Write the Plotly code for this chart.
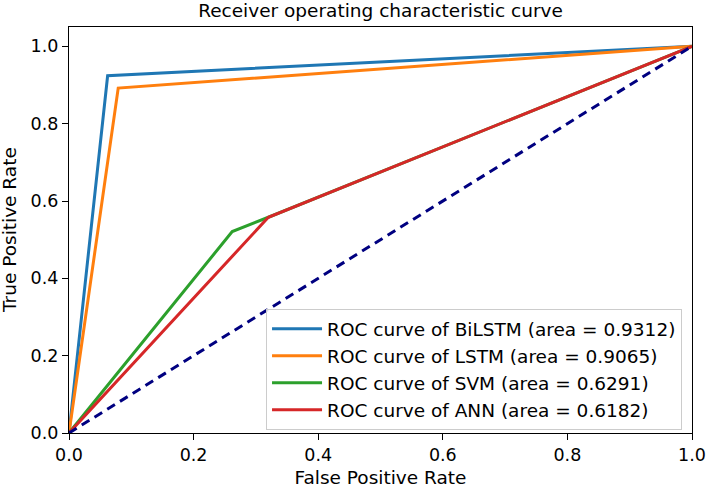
import plotly.graph_objects as go

names = ["BiLSTM", "LSTM", "SVM", "ANN"]
areas = ["0.9312", "0.9065", "0.6291", "0.6182"]
fpr = [
    [0.0, 0.062, 1.0],
    [0.0, 0.079, 1.0],
    [0.0, 0.262, 0.320, 1.0],
    [0.0, 0.320, 1.0],
]
tpr = [
    [0.0, 0.924, 1.0],
    [0.0, 0.892, 1.0],
    [0.0, 0.521, 0.558, 1.0],
    [0.0, 0.558, 1.0],
]
colors = ["#1f77b4", "#ff7f0e", "#2ca02c", "#d62728"]
diag_x = [0.0, 1.0]
diag_y = [0.0, 1.0]
ticks = [0.0, 0.2, 0.4, 0.6, 0.8, 1.0]

FONT = "DejaVu Sans"
FS = 18.5
TFS = 17.5
fig = go.Figure()
for i, n in enumerate(names):
    fig.add_trace(go.Scatter(
        x=fpr[i], y=tpr[i], mode="lines",
        line=dict(color=colors[i], width=3),
        name=f"ROC curve of {n} (area = {areas[i]})",
        legendgroup=n,
    ))
fig.add_trace(go.Scatter(
    x=diag_x, y=diag_y, mode="lines",
    line=dict(color="#000080", width=3, dash="9px,6px"),
    showlegend=False,
))

axis_common = dict(
    showgrid=False, zeroline=False, showline=True, linecolor="black",
    linewidth=1.2, mirror=True, ticks="outside", ticklen=6, tickwidth=1.2,
    tickcolor="black", tickformat=".1f", tickvals=ticks, automargin=False,
    ticklabeloverflow="allow",
    tickfont=dict(family=FONT, size=TFS, color="black"),
)
fig.update_layout(
    width=707, height=488,
    margin=dict(l=69, r=15, t=27, b=55),
    paper_bgcolor="white", plot_bgcolor="white",
    title=dict(text="Receiver operating characteristic curve",
               font=dict(family=FONT, size=FS, color="black"),
               x=0.5, xref="paper", xanchor="center",
               y=1 - 11 / 488, yref="container", yanchor="middle"),
    xaxis=dict(range=[0, 1], title=dict(text="False Positive Rate", standoff=6,
               font=dict(family=FONT, size=FS, color="black")), **axis_common),
    yaxis=dict(range=[0, 1.05], **axis_common),
    annotations=[dict(text="True Positive Rate", textangle=-90, showarrow=False,
                      xref="paper", yref="paper", x=(9 - 69) / 623, y=0.5,
                      xanchor="center", yanchor="middle",
                      font=dict(family=FONT, size=FS, color="black"))],
    legend=dict(x=0.984, y=0.305, xanchor="right", yanchor="top",
                bgcolor="rgba(255,255,255,0.85)", bordercolor="#cccccc", borderwidth=1,
                font=dict(family=FONT, size=FS, color="black"),
                traceorder="grouped", tracegroupgap=0, itemwidth=50),
)
fig.write_html("out.html", post_script="document.body.style.margin='0';",
               config={"displayModeBar": False})
